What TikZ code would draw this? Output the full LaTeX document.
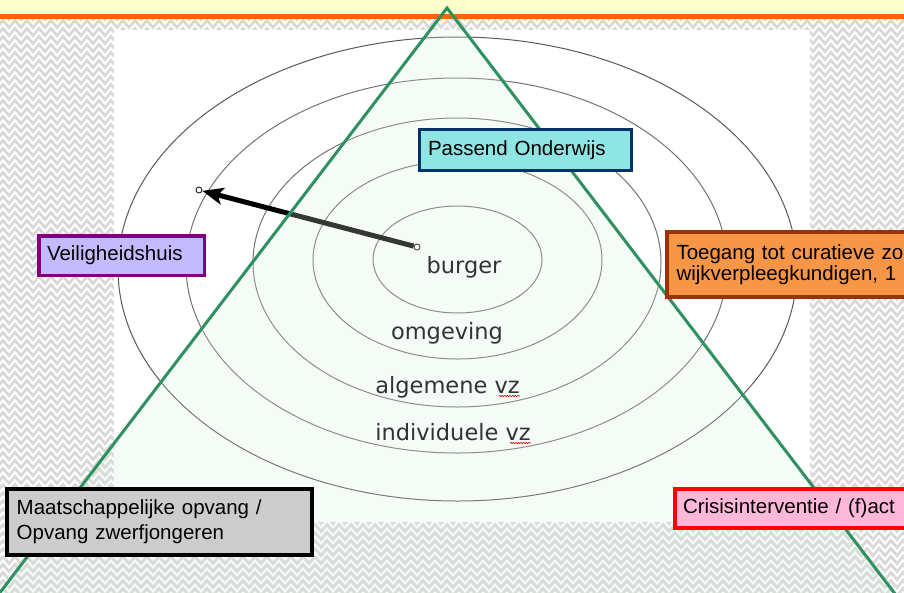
\documentclass[tikz,border=0pt]{standalone}
\usepackage{fontspec}
\setmainfont{Liberation Sans}
\newfontfamily\ringfont{DejaVu Sans}
\usetikzlibrary{arrows.meta,decorations.pathmorphing,positioning}

\definecolor{bandyellow}{RGB}{255,255,204}
\definecolor{bandorange}{RGB}{255,102,0}
\definecolor{triline}{RGB}{47,145,95}
\definecolor{trifill}{RGB}{213,238,221}
\definecolor{ringtext}{RGB}{51,51,51}
\definecolor{navyline}{RGB}{0,51,102}
\definecolor{cyanfill}{RGB}{142,229,227}
\definecolor{purpleline}{RGB}{128,0,128}
\definecolor{lavender}{RGB}{196,186,255}
\definecolor{brownline}{RGB}{153,51,0}
\definecolor{orangefill}{RGB}{247,150,70}
\definecolor{graybox}{RGB}{204,204,204}
\definecolor{pinkfill}{RGB}{255,183,217}

\begin{document}
\begin{tikzpicture}[x=1pt,y=-1pt,
  hatchline/.style={black!15, line width=2.8pt, decorate, decoration={zigzag, segment length=12pt, amplitude=3.5pt}},
  ringline/.style={black!55, line width=1pt},
  ringlabel/.style={font=\ringfont\fontsize{22.5pt}{26pt}\selectfont, text=ringtext, inner sep=0pt, anchor=base},
  squiggle/.style={red!85!black, line width=0.6pt, decorate, decoration={snake, amplitude=0.7pt, segment length=2.6pt}},
  infobox/.style={draw, rectangle, inner ysep=0pt, align=left, font=\fontsize{20.5pt}{#1}\selectfont},
  infobox/.default=23pt,
  enddot/.style={circle, draw=black, fill=white, line width=0.8pt, inner sep=0pt, minimum size=6pt}]
\useasboundingbox (0,0) rectangle (904,592);
\clip (0,0) rectangle (904,592);

% background
\foreach \r in {0,...,75}
  \draw[hatchline] (-12,\r*8) -- (916,\r*8);
\fill[bandyellow] (0,0) rectangle (904,14);
\fill[bandorange] (0,14) rectangle (904,19);
\fill[white] (114,30) rectangle (810,522);

% rings
\draw[ringline] (457.5,259.5) ellipse [x radius=84.5pt, y radius=53.5pt];
\draw[ringline] (457.5,260) ellipse [x radius=144.5pt, y radius=99pt];
\draw[ringline] (457,262.5) ellipse [x radius=204pt, y radius=144.5pt];
\draw[ringline] (456.5,265.5) ellipse [x radius=270.5pt, y radius=187.5pt];
\draw[ringline, black!65] (457.5,269) ellipse [x radius=339.5pt, y radius=232pt];

% arrow
\node[enddot] (tail) at (417,247) {};
\node[enddot] (head) at (199,190) {};
\draw[line width=5pt, -{Stealth[length=21pt,width=17pt,inset=5pt]}] (tail) -- (head);

% triangle
\coordinate (apex) at (447,8);
\coordinate (baseL) at (-21,620);
\coordinate (baseR) at (915,620);
\begin{scope}
  \clip (0,19) rectangle (904,592);
  \fill[trifill, fill opacity=0.235] (apex) -- (baseL) -- (baseR) -- cycle;
\end{scope}
\draw[triline, line width=3pt] (baseL) -- (apex) -- (baseR);

% ring labels
\node[ringlabel] (burger) at (464,273) {burger};
\node[ringlabel] (omgeving) at (447,339) {omgeving};
\node[ringlabel] (algemeen) at (447.5,393) {algemene vz};
\node[ringlabel] (individueel) at (453,440) {individuele vz};
\draw[squiggle] ([xshift=-21pt,yshift=-3pt]algemeen.base east) -- ([yshift=-3pt]algemeen.base east);
\draw[squiggle] ([xshift=-21pt,yshift=-3pt]individueel.base east) -- ([yshift=-3pt]individueel.base east);

% boxes
\node[infobox, draw=navyline, fill=cyanfill, line width=3pt, text width=195pt, inner xsep=8.5pt, minimum height=41pt] (passend) at (525.5,150) {Passend Onderwijs};
\node[infobox, draw=purpleline, fill=lavender, line width=3.5pt, text width=149pt, inner xsep=8.25pt, minimum height=39.5pt] (veiligheid) at (121.5,255.5) {Veiligheidshuis};
\node[infobox=21pt, draw=brownline, fill=orangefill, line width=4pt, text width=275pt, inner xsep=10pt, minimum height=65pt] (toegang) at (814,264.5) {Toegang tot curatieve zo\\wijkverpleegkundigen, 1};
\node[infobox=25pt, draw=black, fill=graybox, line width=4pt, text width=285.6pt, inner xsep=9.7pt, minimum height=66pt] (opvang) at (159.5,522) {Maatschappelijke opvang /\\Opvang zwerfjongeren};
\node[infobox, draw=red, fill=pinkfill, line width=4pt, text width=269pt, inner xsep=8pt, minimum height=39pt] (crisis) at (817.5,508.5) {Crisisinterventie / (f)act};
\end{tikzpicture}
\end{document}
